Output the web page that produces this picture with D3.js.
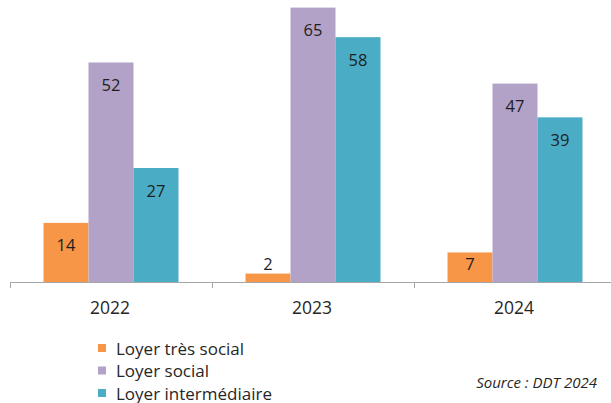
<!DOCTYPE html>
<html><head><meta charset="utf-8">
<script src="https://cdn.jsdelivr.net/npm/d3@7"></script>
<style>body{margin:0;background:#fff;}svg{display:block;font-family:"Open Sans",Lato,sans-serif;}</style>
</head><body>
<svg id="c" width="611" height="403"></svg>
<script>
const years = ["2022", "2023", "2024"];
const seriesNames = ["Loyer très social", "Loyer social", "Loyer intermédiaire"];
const tresSocial = [14, 2, 7];
const social = [52, 65, 47];
const intermediaire = [27, 58, 39];
const colors = ["#F79646", "#B3A2C7", "#4BACC6"];
const sourceText = "Source : DDT 2024";

const values = [tresSocial, social, intermediaire];
const svg = d3.select("#c");
const baseY = 282;
const x = d3.scaleBand().domain(years).range([10, 616]).padding(0);
const x1 = d3.scaleBand().domain(seriesNames).range([0, x.bandwidth()]).paddingInner(0).paddingOuter(0.745);
const y = d3.scaleLinear().domain([0, 66.8]).range([baseY, 0]);
const color = d3.scaleOrdinal().domain(seriesNames).range(colors);

const data = [];
years.forEach((yr, i) => seriesNames.forEach((s, j) => data.push({yr, s, v: values[j][i]})));

svg.selectAll("rect.bar").data(data).join("rect").attr("class", "bar")
  .attr("x", d => x(d.yr) + x1(d.s))
  .attr("width", x1.bandwidth())
  .attr("y", d => y(d.v))
  .attr("height", d => baseY - y(d.v))
  .attr("fill", d => color(d.s));

svg.selectAll("text.lab").data(data).join("text").attr("class", "lab")
  .attr("x", d => x(d.yr) + x1(d.s) + x1.bandwidth() / 2)
  .attr("y", d => {
    const top = y(d.v), h = baseY - top;
    if (h < 20) return top - 10;
    return Math.min(top + 22, (top + baseY) / 2 - 4);
  })
  .attr("text-anchor", "middle").attr("dominant-baseline", "central")
  .attr("font-size", 16.5).attr("fill", "#1e1e1e")
  .text(d => d.v);

// axis
const axisG = svg.append("g");
axisG.append("line").attr("x1", x.range()[0]).attr("x2", x.range()[1])
  .attr("y1", baseY + 0.5).attr("y2", baseY + 0.5).attr("stroke", "#a6a6a6").attr("stroke-width", 1);
const boundaries = years.map(yr => x(yr)).concat([x.range()[1]]);
axisG.selectAll("line.tk").data(boundaries).join("line").attr("class", "tk")
  .attr("x1", d => Math.round(d) + 0.5).attr("x2", d => Math.round(d) + 0.5)
  .attr("y1", baseY).attr("y2", baseY + 6).attr("stroke", "#a6a6a6");
axisG.selectAll("text.yr").data(years).join("text").attr("class", "yr")
  .attr("x", d => x(d) + x.bandwidth() / 2 - 1).attr("y", 307)
  .attr("text-anchor", "middle").attr("dominant-baseline", "central")
  .attr("font-size", 17.5).attr("fill", "#262626").text(d => d);

// legend
const lg = svg.append("g");
seriesNames.forEach((s, i) => {
  const cy = 348 + i * 22.5;
  lg.append("rect").attr("x", 98).attr("y", cy - 4).attr("width", 8).attr("height", 8).attr("fill", color(s));
  lg.append("text").attr("x", 116).attr("y", cy).attr("dominant-baseline", "central")
    .attr("font-size", 17).attr("fill", "#262626").text(s);
});

svg.append("text").attr("x", 597).attr("y", 382).attr("text-anchor", "end")
  .attr("dominant-baseline", "central").attr("font-style", "italic")
  .attr("font-size", 15).attr("fill", "#262626").text(sourceText);
</script>
</body></html>
